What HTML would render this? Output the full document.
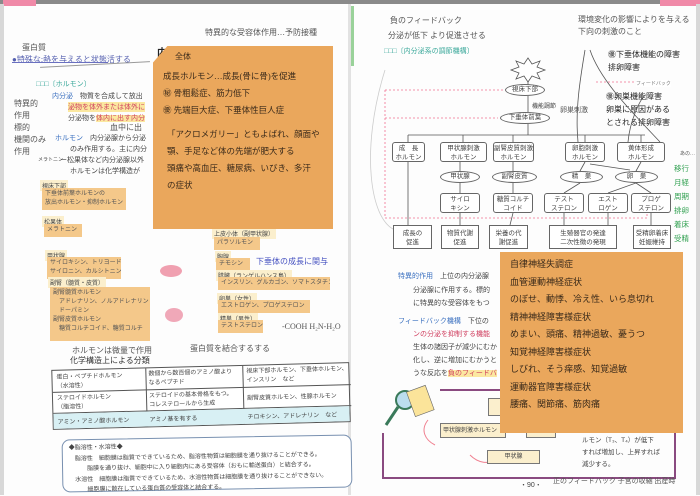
<!DOCTYPE html>
<html><head><meta charset="utf-8"><style>
*{margin:0;padding:0;box-sizing:border-box}
body{width:700px;height:495px;position:relative;overflow:hidden;background:#fdfdfd;font-family:"Liberation Sans","Noto Sans CJK JP",sans-serif;color:#333}
.a{position:absolute;white-space:nowrap}
.t{font-size:7px;color:#444}
.hw{font-size:8px;color:#555;font-family:"Liberation Serif","Noto Sans CJK JP",sans-serif}
.ob{position:absolute;background:#f4c88a;font-size:6px;color:#555;padding:2px 3px;line-height:9px;white-space:nowrap;overflow:hidden}
.lb{position:absolute;background:#fbefcd;font-size:6px;color:#444;padding:1px 2px;white-space:nowrap}
.bx{position:absolute;border:1px solid #666;border-radius:3px;background:#fff;font-size:6.5px;text-align:center;line-height:9px;padding-top:1px;color:#444;white-space:nowrap}
.el{position:absolute;border:1px solid #666;border-radius:50%;background:#fff;font-size:6.5px;text-align:center;color:#444;white-space:nowrap}
.sq{position:absolute;background:#eaa75c;font-family:"Liberation Serif","Noto Sans CJK JP",sans-serif;color:#3a2a1a;overflow:hidden}
</style></head><body>
<div class="a" style="left:0;top:0;width:700px;height:4px;background:#8a8a8a"></div>
<div class="a" style="left:3px;top:0;width:33px;height:6px;background:#f08aa8"></div>
<div class="a" style="left:660px;top:0;width:40px;height:6px;background:#f08aa8"></div>
<div class="a" style="left:0;top:4px;width:4px;height:491px;background:#d8d8d8"></div>
<div class="a" style="left:348px;top:4px;width:3px;height:491px;background:#e2e2e2"></div>
<div class="a" style="left:351px;top:6px;width:3px;height:60px;background:#9ad29a"></div>
<div class="a" style="left:696px;top:4px;width:4px;height:491px;background:#d8d8d8"></div>

<!-- left page -->
<div class="a hw" style="left:205px;top:27px">特異的な受容体作用…予防接種</div>
<div class="a hw" style="left:22px;top:42px">蛋白質</div>
<div class="a hw" style="left:12px;top:54px;color:#5560b0">●特殊な:熱を与えると状態活する</div>
<div class="a" style="left:12px;top:62px;width:96px;height:1px;background:#6a70c0"></div>
<div class="a" style="left:40px;top:64px;width:110px;height:1px;background:#999;transform:rotate(-3deg)"></div>
<div class="a" style="left:157px;top:44px;font-size:10px;font-weight:bold;color:#222">内分泌①</div>
<div class="a t" style="left:36px;top:79px;color:#3aa89a">□□□〔ホルモン〕</div>
<div class="a t" style="left:52px;top:91px"><span style="color:#3a70c0">内分泌</span>　物質を合成して放出</div>
<div class="a t" style="left:68px;top:102px;color:#d04060;background:#fbe8a0">泌物を体外または体外に</div>
<div class="a t" style="left:68px;top:113px">分泌物を<span style="color:#d04060;background:#fbe8a0">体内に出す内分</span></div>
<div class="a hw" style="left:110px;top:122px">血中に出</div>
<div class="a hw" style="left:14px;top:98px;line-height:12px">特異的<br>作用<br>標的<br>機関のみ<br>作用</div>
<div class="a t" style="left:55px;top:133px"><span style="color:#3a70c0">ホルモン</span>　内分泌腺から分泌</div>
<div class="a t" style="left:70px;top:144px">のみ作用する。主に内分</div>
<div class="a t" style="left:38px;top:156px;font-size:5px">メラトニン</div>
<div class="a t" style="left:60px;top:155px">ー松果体など内分泌腺以外</div>
<div class="a t" style="left:70px;top:166px">ホルモンは化学構造が</div>

<div class="lb" style="left:40px;top:180px">視床下部</div>
<div class="ob" style="left:42px;top:188px;width:84px">下垂体前葉ホルモンの<br>放出ホルモン・抑制ホルモン</div>
<div class="lb" style="left:42px;top:216px">松果体</div>
<div class="ob" style="left:44px;top:224px;width:38px">メラトニン</div>
<div class="lb" style="left:45px;top:250px">甲状腺</div>
<div class="ob" style="left:47px;top:257px;width:74px">サイロキシン、トリヨード<br>サイロニン、カルシトニン</div>
<div class="lb" style="left:48px;top:277px">副腎（髄質・皮質）</div>
<div class="ob" style="left:50px;top:287px;width:100px;height:54px">副腎髄質ホルモン<br>　アドレナリン、ノルアドレナリン<br>　ドーパミン<br>副腎皮質ホルモン<br>　糖質コルチコイド、糖質コルチ</div>
<div class="lb" style="left:212px;top:228px">上皮小体（副甲状腺）</div>
<div class="ob" style="left:214px;top:237px;width:46px">パラソルモン</div>
<div class="lb" style="left:215px;top:251px">胸腺</div>
<div class="ob" style="left:216px;top:258px;width:34px">チモシン</div>
<div class="a hw" style="left:256px;top:256px;color:#4450c0">下垂体の成長に関与</div>
<div class="lb" style="left:216px;top:270px">膵臓（ランゲルハンス島）</div>
<div class="ob" style="left:218px;top:277px;width:112px">インスリン、グルカゴン、ソマトスタチン</div>
<div class="lb" style="left:217px;top:293px">卵巣（女性）</div>
<div class="ob" style="left:218px;top:300px;width:92px">エストロゲン、プロゲステロン</div>
<div class="lb" style="left:218px;top:313px">精巣（男性）</div>
<div class="ob" style="left:218px;top:320px;width:45px">テストステロン</div>
<div class="a hw" style="left:282px;top:322px">-COOH H₂N-H₂O</div>
<div class="a" style="left:160px;top:265px;width:22px;height:12px;border-radius:50%;background:#f0a0b0"></div>
<div class="a" style="left:165px;top:308px;width:18px;height:14px;border-radius:50%;background:#f0a8b8"></div>
<div class="a hw" style="left:72px;top:345px">ホルモンは微量で作用</div>
<div class="a hw" style="left:190px;top:343px">蛋白質を結合するする</div>
<div class="a" style="left:70px;top:355px;font-size:8px;color:#333">化学構造上による分類</div>
<div class="a" style="left:52px;top:366px;width:298px;height:60px;border:1px solid #555;background:#fff;transform:rotate(-1.5deg)">
 <div class="a" style="left:93px;top:0;width:1px;height:58px;background:#555"></div>
 <div class="a" style="left:190px;top:0;width:1px;height:58px;background:#555"></div>
 <div class="a" style="left:0;top:21px;width:298px;height:1px;background:#555"></div>
 <div class="a" style="left:0;top:42px;width:298px;height:1px;background:#555"></div>
 <div class="a" style="left:0;top:43px;width:296px;height:15px;background:#d8f0f4"></div>
 <div class="a t" style="left:4px;top:3px;font-size:6px;line-height:9px">蛋白・ペプチドホルモン<br>（水溶性）</div>
 <div class="a t" style="left:96px;top:2px;font-size:6px;line-height:9px">数個から数百個のアミノ酸より<br>なるペプチド</div>
 <div class="a t" style="left:194px;top:2px;font-size:6px;line-height:9px">視床下部ホルモン、下垂体ホルモン、<br>インスリン　など</div>
 <div class="a t" style="left:4px;top:24px;font-size:6px;line-height:9px">ステロイドホルモン<br>（脂溶性）</div>
 <div class="a t" style="left:96px;top:24px;font-size:6px;line-height:9px">ステロイドの基本骨格をもつ。<br>コレステロールから生成</div>
 <div class="a t" style="left:194px;top:27px;font-size:6px">副腎皮質ホルモン、性腺ホルモン</div>
 <div class="a t" style="left:4px;top:46px;font-size:6px">アミン・アミノ酸ホルモン</div>
 <div class="a t" style="left:96px;top:46px;font-size:6px">アミノ基を有する</div>
 <div class="a t" style="left:194px;top:46px;font-size:6px">チロキシン、アドレナリン　など</div>
</div>
<div class="a" style="left:62px;top:437px;width:290px;height:53px;border:1px solid #7890b0;border-radius:8px;background:#fff;transform:rotate(-1deg)">
 <div class="a t" style="left:6px;top:3px;font-size:6px;line-height:10.5px">◆脂溶性・水溶性◆<br>　脂溶性　細胞膜は脂質でできているため、脂溶性物質は細胞膜を通り抜けることができる。<br>　　　脂膜を通り抜け、細胞中に入り細胞内にある受容体（おもに輸送蛋白）と結合する。<br>　水溶性　細胞膜は脂質でできているため、水溶性物質は細胞膜を通り抜けることができない。<br>　　　細胞膜に散在している蛋白質の受容体と結合する。</div>
</div>

<!-- sticky left -->
<div class="sq" style="left:153px;top:46px;width:180px;height:183px;clip-path:polygon(8% 0,100% 0,100% 100%,0 100%,0 9%)">
 <div class="a" style="left:22px;top:5px;font-size:8px">全体</div>
 <div class="a" style="left:10px;top:22px;font-size:8.5px;line-height:17px">成長ホルモン…成長(骨に骨)を促進<br>㊙ 骨粗鬆症、筋力低下<br>㊝ 先端巨大症、下垂体性巨人症</div>
 <div class="a" style="left:14px;top:80px;font-size:8.5px;line-height:17px">「アクロメガリー」ともよばれ、顔面や<br>顎、手足など体の先端が肥大する<br>頭痛や高血圧、糖尿病、いびき、多汗<br>の症状</div>
</div>

<!-- right page -->
<div class="a hw" style="left:390px;top:15px">負のフィードバック</div>
<div class="a hw" style="left:388px;top:30px">分泌が低下 より促進させる</div>
<div class="a t" style="left:384px;top:46px;color:#3aa89a">□□□〔内分泌系の調節機構〕</div>
<div class="a hw" style="left:578px;top:14px;line-height:12px">環境変化の影響によりを与える<br>下向の刺激のこと</div>
<div class="a hw" style="left:608px;top:48px;font-size:8px;color:#222;line-height:13px">㊝下垂体機能の障害<br>排卵障害</div>
<div class="a hw" style="left:606px;top:90px;font-size:8px;color:#222;line-height:13px">㊝卵巣機能障害<br>卵巣に原因がある<br>とされる排卵障害</div>
<div class="a hw" style="left:560px;top:105px;font-size:7px">卵巣刺激</div>
<div class="a hw" style="left:680px;top:150px;font-size:5px">あの…</div>
<div class="a hw" style="left:674px;top:162px;color:#30a050;font-size:7.5px;line-height:14px">移行<br>月経<br>周期<br>排卵<br>着床<br>受精</div>

<svg class="a" style="left:0;top:0" width="700" height="495">
 <polygon points="528,58 532,64 540,61 537,67 545,70 537,73 540,79 532,76 528,82 524,76 516,79 519,73 511,70 519,67 516,61 524,64" fill="#fff" stroke="#555" stroke-width="0.8"/>
 <g stroke="#555" fill="none" stroke-width="0.8">
 <line x1="528" y1="82" x2="528" y2="85"/><line x1="528" y1="96" x2="528" y2="112"/>
 <line x1="528" y1="124" x2="528" y2="135"/><line x1="408" y1="135" x2="645" y2="135"/>
 <line x1="408" y1="135" x2="408" y2="142"/><line x1="463" y1="135" x2="463" y2="142"/><line x1="513" y1="135" x2="513" y2="142"/><line x1="585" y1="135" x2="585" y2="142"/><line x1="641" y1="135" x2="641" y2="142"/>
 <line x1="408" y1="162" x2="408" y2="225"/><line x1="460" y1="162" x2="460" y2="171"/><line x1="513" y1="162" x2="513" y2="171"/><line x1="585" y1="162" x2="580" y2="171"/><line x1="641" y1="162" x2="636" y2="171"/>
 <line x1="460" y1="183" x2="460" y2="193"/><line x1="513" y1="183" x2="513" y2="193"/>
 <line x1="580" y1="183" x2="564" y2="193"/><line x1="636" y1="183" x2="608" y2="193"/><line x1="636" y1="183" x2="651" y2="193"/><line x1="590" y1="164" x2="630" y2="170"/>
 <line x1="460" y1="213" x2="460" y2="225"/><line x1="513" y1="213" x2="510" y2="225"/><line x1="564" y1="213" x2="564" y2="225"/><line x1="608" y1="213" x2="608" y2="225"/><line x1="651" y1="213" x2="651" y2="225"/>
 <path d="M578 142 C575 110 580 80 585 50" /><path d="M628 142 C630 120 640 100 645 95"/><path d="M660 142 C630 110 600 80 590 50"/>
 <path d="M385 70 C360 150 370 220 395 230" stroke="#ccc"/>
 </g>
 <g stroke="#f07090" fill="none" stroke-width="0.8" stroke-dasharray="2,2">
 <line x1="385" y1="90" x2="503" y2="90"/><line x1="385" y1="118" x2="498" y2="118"/>
 <line x1="385" y1="90" x2="385" y2="218"/><line x1="385" y1="218" x2="647" y2="218"/><line x1="647" y1="210" x2="647" y2="218"/>
 <line x1="596" y1="82" x2="640" y2="82"/>
 </g>
 <g stroke="#8a4a80" fill="none" stroke-width="2"><path d="M383 433 L383 478 L675 478 L675 390"/><line x1="440" y1="390" x2="500" y2="390"/></g>
 <circle cx="405" cy="400" r="9" fill="#bde" stroke="#3a7a5a" stroke-width="2"/>
 <line x1="398" y1="407" x2="386" y2="425" stroke="#3a7a5a" stroke-width="3"/>
 <rect x="410" y="388" width="20" height="26" fill="#fbe49a" stroke="#666" stroke-width="0.6" transform="rotate(-20 420 400)"/>
 <path d="M435 445 C425 440 420 430 428 420" stroke="#f08090" fill="none"/>
 <path d="M470 455 C480 465 490 462 488 462" stroke="#f08090" fill="none"/>
</svg>
<div class="a" style="left:636px;top:80px;font-size:5px;color:#777;background:#fff">フィードバック</div>
<div class="el" style="left:505px;top:84px;width:40px;height:12px;line-height:10px">視床下部</div>
<div class="a t" style="left:532px;top:101px;font-size:6px">機能調節</div>
<div class="el" style="left:500px;top:112px;width:50px;height:12px;line-height:10px">下垂体前葉</div>
<div class="bx" style="left:392px;top:142px;width:33px;height:20px">成　長<br>ホルモン</div>
<div class="bx" style="left:440px;top:142px;width:47px;height:20px">甲状腺刺激<br>ホルモン</div>
<div class="bx" style="left:493px;top:142px;width:41px;height:20px">副腎皮質刺激<br>ホルモン</div>
<div class="bx" style="left:565px;top:142px;width:40px;height:20px">卵胞刺激<br>ホルモン</div>
<div class="bx" style="left:617px;top:142px;width:48px;height:20px">黄体形成<br>ホルモン</div>
<div class="el" style="left:440px;top:171px;width:40px;height:12px;line-height:10px">甲状腺</div>
<div class="el" style="left:492px;top:171px;width:45px;height:12px;line-height:10px">副腎皮質</div>
<div class="el" style="left:560px;top:171px;width:43px;height:12px;line-height:10px">精　巣</div>
<div class="el" style="left:615px;top:171px;width:43px;height:12px;line-height:10px">卵　巣</div>
<div class="bx" style="left:440px;top:193px;width:40px;height:20px">サイロ<br>キシン</div>
<div class="bx" style="left:493px;top:193px;width:40px;height:20px">糖質コルチ<br>コイド</div>
<div class="bx" style="left:544px;top:193px;width:40px;height:20px">テスト<br>ステロン</div>
<div class="bx" style="left:588px;top:193px;width:40px;height:20px">エスト<br>ロゲン</div>
<div class="bx" style="left:631px;top:193px;width:40px;height:20px">プロゲ<br>ステロン</div>
<div class="bx" style="left:393px;top:225px;width:39px;height:24px;border-radius:0;padding-top:3px">成長の<br>促進</div>
<div class="bx" style="left:441px;top:225px;width:38px;height:24px;border-radius:0;padding-top:3px">物質代謝<br>促進</div>
<div class="bx" style="left:489px;top:225px;width:39px;height:24px;border-radius:0;padding-top:3px">栄養の代<br>謝促進</div>
<div class="bx" style="left:549px;top:225px;width:68px;height:24px;border-radius:0;padding-top:3px">生殖器官の発達<br>二次性徴の発現</div>
<div class="bx" style="left:633px;top:225px;width:38px;height:24px;border-radius:0;padding-top:3px">受精卵着床<br>妊娠維持</div>

<div class="a t" style="left:398px;top:271px"><span style="color:#3a70c0">特異的作用</span>　上位の内分泌腺</div>
<div class="a t" style="left:413px;top:285px">分泌腺に作用する。標的</div>
<div class="a t" style="left:413px;top:298px">に特異的な受容体をもつ</div>
<div class="a t" style="left:398px;top:316px"><span style="color:#3a70c0">フィードバック機構</span>　下位の</div>
<div class="a t" style="left:413px;top:329px;color:#d04060">ンの分泌を抑制する機能</div>
<div class="a t" style="left:413px;top:342px">生体の諸因子が減少にむか</div>
<div class="a t" style="left:413px;top:355px">化し、逆に増加にむかうと</div>
<div class="a t" style="left:413px;top:368px">うな反応を<span style="color:#d04060;background:#fbe8a0">負のフィードバ</span></div>
<div class="lb" style="left:488px;top:398px;width:26px;height:18px;border:1px solid #777"></div>
<div class="lb" style="left:440px;top:423px;width:66px;height:15px;border:1px solid #777;line-height:12px">甲状腺刺激ホルモン</div>
<div class="lb" style="left:487px;top:450px;width:53px;height:14px;border:1px solid #777;text-align:center;line-height:11px">甲状腺</div>
<div class="lb" style="left:526px;top:423px;width:30px;height:15px;border:1px solid #777"></div>
<div class="a t" style="left:582px;top:435px;font-size:6.5px;line-height:12px">ルモン（T₃、T₄）が低下<br>すれば増加し、上昇すれば<br>減少する。</div>
<div class="a t" style="left:520px;top:480px">・90・</div>
<div class="a hw" style="left:553px;top:476px;font-size:7px">正のフィードバック 子宮の収縮 出産時</div>

<!-- sticky right -->
<div class="sq" style="left:500px;top:252px;width:183px;height:181px">
 <div class="a" style="left:10px;top:4px;font-size:9px;line-height:17.5px">自律神経失調症<br>血管運動神経症状<br>のぼせ、動悸、冷え性、いら息切れ<br>精神神経障害様症状<br>めまい、頭痛、精神過敏、憂うつ<br>知覚神経障害様症状<br>しびれ、そう痒感、知覚過敏<br>運動器官障害様症状<br>腰痛、関節痛、筋肉痛</div>
</div>
</body></html>
